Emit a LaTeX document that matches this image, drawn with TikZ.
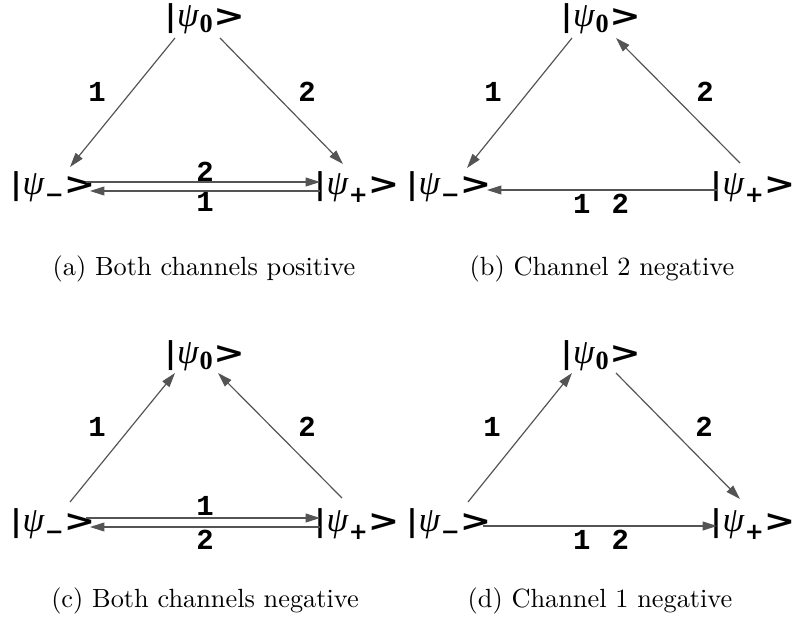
\documentclass[tikz,border=0pt]{standalone}
\usepackage{graphicx}
\usepackage{fontspec}
\usetikzlibrary{arrows.meta}
\newfontfamily\ketsans{DejaVu Sans}
\newfontfamily\ketserif{Liberation Serif}
\newfontfamily\lblmono{Liberation Mono}
\newcommand\ketbar{{\ketsans\bfseries |}}
\newcommand\ketgt{{\ketsans\bfseries\scalebox{1.25}[1]{>}}}
\newcommand\kpsi{{\ketserif\itshape\fontsize{13.2}{14}\selectfont ψ}}
\newcommand\kzero{\raisebox{-2pt}{\ketserif\bfseries\fontsize{10}{10}\selectfont 0}\kern0.3pt}
\newcommand\kminus{\raisebox{-3pt}{\ketsans\bfseries\fontsize{8.6}{9}\selectfont −}}
\newcommand\kplus{\raisebox{-3pt}{\ketsans\bfseries\fontsize{8.6}{9}\selectfont +}}
\newcommand\myket[1]{\ketbar\kern0.4pt\kpsi\kern0.3pt#1\ketgt}
\tikzset{
  kn/.style={inner sep=0pt, font=\fontsize{11.4}{12}\selectfont},
  lbl/.style={inner sep=0pt, font=\lblmono\bfseries\fontsize{11}{12}\selectfont},
  arr/.style={draw=black!67, line width=0.45pt, -{Triangle[length=5.5pt,width=3.4pt]}},
  captxt/.style={inner sep=0pt, font=\fontsize{10}{12}\selectfont},
}
\begin{document}
\begin{tikzpicture}[x=0.38pt,y=-0.38pt]
\useasboundingbox (0,0) rectangle (794,623);
% ---------- (a)
\begin{scope}
\node[kn] (a0) at (205,19) {\myket{\kzero}};
\node[kn] (am) at (53,187) {\myket{\kminus}};
\node[kn] (ap) at (357,187) {\myket{\kplus}};
\draw[arr] ([shift={(-30,19)}]a0.center) -- ([shift={(17,-20)}]am.center);
\draw[arr] ([shift={(15,19)}]a0.center) -- ([shift={(-14,-23)}]ap.center);
\draw[arr] ([shift={(33,-5)}]am.center) -- ([shift={(-37,-5)}]ap.center);
\draw[arr] ([shift={(-37,4)}]ap.center) -- ([shift={(37,4)}]am.center);
\node[lbl] (al1) at (97,92) {1};
\node[lbl] (al2) at (307,92) {2};
\node[lbl] (al3) at (205,172) {2};
\node[lbl] (al4) at (205,202) {1};
\end{scope}
% ---------- (b)
\begin{scope}[shift={(396,0)}]
\node[kn] (b0) at (205,19) {\myket{\kzero}};
\node[kn] (bm) at (53,187) {\myket{\kminus}};
\node[kn] (bp) at (357,187) {\myket{\kplus}};
\draw[arr] ([shift={(-29,19)}]b0.center) -- ([shift={(18,-19)}]bm.center);
\draw[arr] ([shift={(-13,-24)}]bp.center) -- ([shift={(15,19)}]b0.center);
\draw[arr] ([shift={(-36,3)}]bp.center) -- ([shift={(38,3)}]bm.center);
\node[lbl] (bl1) at (97,92) {1};
\node[lbl] (bl2) at (309,92) {2};
\node[lbl] (bl3) at (205,204) {1\hspace{8pt}2};
\end{scope}
% ---------- (c)
\begin{scope}[shift={(0,337)}]
\node[kn] (c0) at (205,19) {\myket{\kzero}};
\node[kn] (cm) at (53,187) {\myket{\kminus}};
\node[kn] (cp) at (357,187) {\myket{\kplus}};
\draw[arr] ([shift={(17,-22)}]cm.center) -- ([shift={(-30,17)}]c0.center);
\draw[arr] ([shift={(-15,-26)}]cp.center) -- ([shift={(13,17)}]c0.center);
\draw[arr] ([shift={(33,-6)}]cm.center) -- ([shift={(-37,-6)}]cp.center);
\draw[arr] ([shift={(-37,3)}]cp.center) -- ([shift={(37,3)}]cm.center);
\node[lbl] (cl1) at (97,90) {1};
\node[lbl] (cl2) at (307,90) {2};
\node[lbl] (cl3) at (205,169) {1};
\node[lbl] (cl4) at (205,203) {2};
\end{scope}
% ---------- (d)
\begin{scope}[shift={(396,337)}]
\node[kn] (d0) at (205,19) {\myket{\kzero}};
\node[kn] (dm) at (53,187) {\myket{\kminus}};
\node[kn] (dp) at (357,187) {\myket{\kplus}};
\draw[arr] ([shift={(19,-22)}]dm.center) -- ([shift={(-29,17)}]d0.center);
\draw[arr] ([shift={(15,17)}]d0.center) -- ([shift={(-13,-25)}]dp.center);
\draw[arr] ([shift={(34,2)}]dm.center) -- ([shift={(-36,2)}]dp.center);
\node[lbl] (dl1) at (96,90) {1};
\node[lbl] (dl2) at (308,90) {2};
\node[lbl] (dl3) at (205,203) {1\hspace{8pt}2};
\end{scope}
% ---------- captions
\node[captxt] (capa) at (204,269) {(a) Both channels positive};
\node[captxt] (capb) at (602,269) {(b) Channel 2 negative};
\node[captxt] (capc) at (205,601) {(c) Both channels negative};
\node[captxt] (capd) at (600,601) {(d) Channel 1 negative};
\end{tikzpicture}
\end{document}
